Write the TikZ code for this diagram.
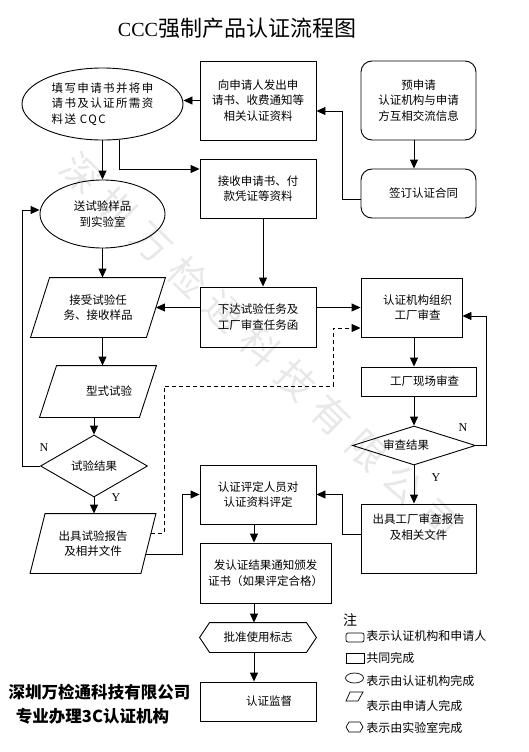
\documentclass[tikz,border=0pt]{standalone}
\usepackage{fontspec}
\setmainfont{Noto Sans CJK SC}
\newfontfamily\serifmark{Liberation Serif}
\usetikzlibrary{arrows.meta, shapes.geometric}

\newcommand\slantbox[2]{\draw ([xshift=#2]#1.north west) -- ([xshift=#2]#1.north east)
  -- ([xshift=-#2]#1.south east) -- ([xshift=-#2]#1.south west) -- cycle;}
\newcommand\hexbox[2]{\draw (#1.west) -- ([xshift=#2]#1.north west) -- ([xshift=-#2]#1.north east)
  -- (#1.east) -- ([xshift=-#2]#1.south east) -- ([xshift=#2]#1.south west) -- cycle;}

\begin{document}
\begin{tikzpicture}[x=1pt, y=-1pt, line width=0.9pt,
    every node/.style={font=\fontsize{11.5}{15.5}\selectfont, align=center, inner sep=0pt},
    box/.style={draw, rectangle},
    rbox/.style={draw, rectangle, rounded corners=11pt},
    oval/.style={draw, ellipse},
    dia/.style={draw, diamond},
    flat/.style={rectangle},
    arr/.style={-{Triangle[length=9pt,width=8pt]}},
    dash line/.style={dash pattern=on 4pt off 3pt},
    yn/.style={font=\serifmark\fontsize{12}{12}\selectfont},
    legend/.style={anchor=west, font=\fontsize{12}{12}\selectfont}]
  \useasboundingbox (0,0) rectangle (528,752);

  \node[rotate=-44, text=gray!18, font=\fontsize{38}{38}\selectfont\addfontfeature{LetterSpace=31}] (wmark) at (260,346) {深圳万检通科技有限公司};

  \node[font=\fontsize{22}{22}\selectfont] (title) at (237,28) {{\serifmark\fontsize{20}{20}\selectfont CCC}强制产品认证流程图};

  \node[oval, minimum width=161pt, minimum height=72pt, align=left,
    font=\fontsize{11.5}{15.5}\selectfont\addfontfeature{LetterSpace=12}] (fill) at (102.5,104) {填写申请书并将申\\请书及认证所需资\\料送 CQC};
  \node[box, minimum width=116pt, minimum height=79pt] (issue) at (258,100.5) {向申请人发出申\\请书、收费通知等\\相关认证资料};
  \node[rbox, minimum width=115pt, minimum height=79pt] (pre) at (418.5,100.5) {预申请\\认证机构与申请\\方互相交流信息};
  \node[rbox, minimum width=115pt, minimum height=49pt] (sign) at (418.5,193.5) {\hspace*{10pt}签订认证合同};
  \node[box, minimum width=116pt, minimum height=59pt] (recv) at (258,188.5) {接收申请书、付\\款凭证等资料};
  \node[oval, minimum width=125pt, minimum height=68pt] (send) at (102.5,214) {送试验样品\\到实验室};

  \node[flat, minimum width=115pt, minimum height=59pt] (accept) at (98,307.5) {接受试验任\\务、接收样品};
  \slantbox{accept}{9.5pt}
  \node[flat, minimum width=99pt, minimum height=51pt] (type) at (98,391.5) {\hspace*{22pt}型式试验};
  \slantbox{type}{8.5pt}
  \node[dia, aspect=1.7, minimum width=107pt, minimum height=62pt] (tres) at (94,466) {试验结果};
  \node[flat, minimum width=110pt, minimum height=59pt] (rep) at (93,543.5) {出具试验报告\\及相并文件};
  \slantbox{rep}{7.5pt}

  \node[box, minimum width=116pt, minimum height=60pt] (task) at (258,317) {下达试验任务及\\工厂审查任务函};
  \node[box, minimum width=101pt, minimum height=59pt] (org) at (411.5,307.5) {\hspace*{12pt}认证机构组织\\\hspace*{12pt}工厂审查};
  \node[box, minimum width=115pt, minimum height=29pt] (site) at (418.5,381.5) {\hspace*{12pt}工厂现场审查};
  \node[dia, aspect=3, minimum width=123pt, minimum height=39pt] (ares) at (414,445.5) {审查结果\hspace*{16pt}};
  \node[box, minimum width=115pt, minimum height=69pt] (frep) at (418.5,538.5) {出具工厂审查报告\\及相关文件\\[8pt]};

  \node[box, minimum width=116pt, minimum height=59pt] (eval) at (258,494.5) {认证评定人员对\\认证资料评定};
  \node[box, minimum width=131pt, minimum height=60pt] (cert) at (265.5,573) {发认证结果通知颁发\\证书（如果评定合格）};
  \node[flat, minimum width=116pt, minimum height=29pt] (mark) at (258,637.5) {批准使用标志};
  \hexbox{mark}{10pt}
  \node[box, minimum width=116pt, minimum height=39pt] (superv) at (258,701.5) {\hspace*{22pt}认证监督};

  \draw[arr] (issue.west) -- (fill.east |- issue.west);
  \draw[arr] (fill.south) -- (send.north);
  \draw[arr] (fill.296) |- ([yshift=19.5pt]recv.west);
  \draw[arr] (pre.south -| ares.north) -- (sign.north -| ares.north);
  \draw[arr] ([yshift=-5.5pt]sign.west) -- ++(-18,0) |- ([yshift=-10.5pt]issue.east);
  \draw[arr] ([xshift=5pt]recv.south) -- ([xshift=5pt]task.north);
  \draw[arr] (send.south) -- (send.south |- accept.north);
  \draw[arr] (accept.south -| send.south) -- (type.north -| send.south);
  \draw[arr] (tres.north |- type.south) -- (tres.north);
  \draw[arr] (tres.west) -- ++(-18,0) |- ([yshift=4pt]send.west);
  \draw[arr] (tres.south) -- (tres.south |- rep.north);
  \draw[arr] (accept.east -| task.west) -- (accept.east);
  \draw[arr] (org.west -| task.east) -- (org.west);
  \draw[arr, dash line] ([xshift=3pt,yshift=10.5pt]rep.east) -- ++(13,0) |- ++(169,-147) |- ([yshift=-20.5pt]org.west);
  \draw[arr] (org.south -| ares.north) -- (site.north -| ares.north);
  \draw[arr] (site.south -| ares.north) -- (ares.north);
  \draw[arr] (ares.east) -- ++(10,0) |- ([yshift=-8.5pt]org.east);
  \draw[arr] (ares.south) -- (ares.south |- frep.north);
  \draw[arr] ([yshift=4.5pt]frep.west) -- ++(-18,0) |- (eval.east);
  \draw[arr] ([xshift=-2pt,yshift=-10.5pt]rep.east) -- ++(36,0) |- (eval.west);
  \draw[arr] ([xshift=-4pt]eval.south) -- ([xshift=-4pt]eval.south |- cert.north);
  \draw[arr] ([xshift=-4pt]mark.north |- cert.south) -- ([xshift=-4pt]mark.north);
  \draw[arr] ([xshift=-4pt]mark.south) -- ([xshift=-4pt]superv.north);

  \node[yn] (n1) at (44,448) {N};
  \node[yn] (y1) at (116,498) {Y};
  \node[yn] (n2) at (463,428) {N};
  \node[yn] (y2) at (436,478) {Y};

  \node[font=\fontsize{16.5}{16.5}\selectfont\bfseries] (comp) at (99.5,692) {深圳万检通科技有限公司};
  \node[font=\fontsize{16.5}{16.5}\selectfont\bfseries] (biz) at (92.5,716) {专业办理3C认证机构};

  \node[font=\fontsize{14}{14}\selectfont] (note) at (350,620) {注};
  \draw[line width=0.7pt, rounded corners=2pt] (346,633) rectangle (364,642);
  \node[legend] (lg1) at (366,636) {表示认证机构和申请人};
  \draw[line width=0.7pt] (346,653) rectangle (364,663);
  \node[legend] (lg2) at (366,658) {共同完成};
  \draw[line width=0.7pt] (354.5,678) ellipse (9 and 5);
  \node[legend] (lg3) at (366,681) {表示由认证机构完成};
  \draw[line width=0.7pt] (350,692) -- (363,692) -- (358,701) -- (346,701) -- cycle;
  \node[legend] (lg4) at (366,706) {表示由申请人完成};
  \draw[line width=0.7pt] (346,727) -- (349,722) -- (360,722) -- (363,727) -- (360,732) -- (349,732) -- cycle;
  \node[legend] (lg5) at (366,728) {表示由实验室完成};
\end{tikzpicture}
\end{document}
